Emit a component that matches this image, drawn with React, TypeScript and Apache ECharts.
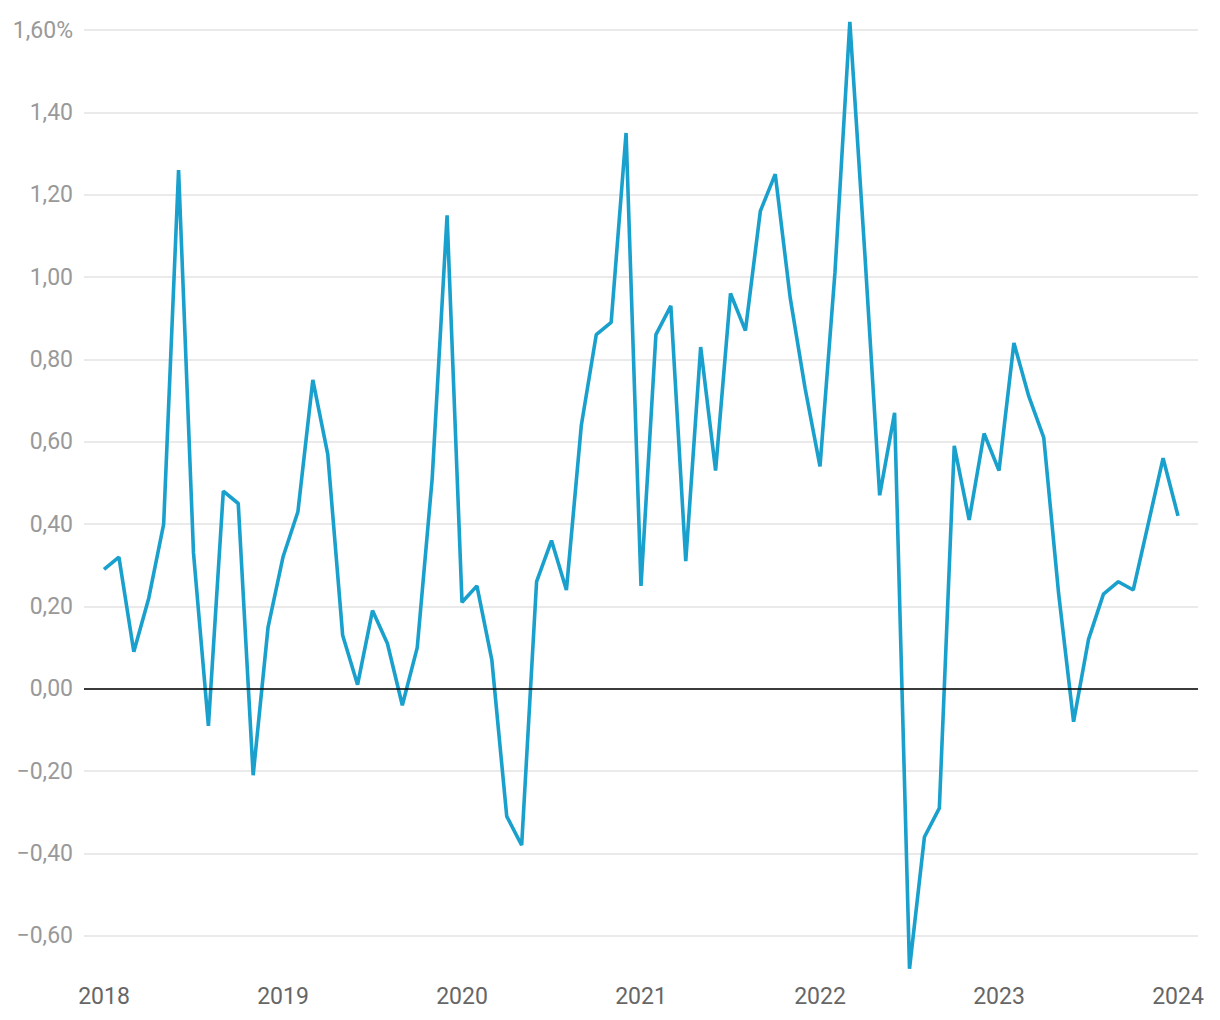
import React, { useEffect, useRef } from "react";
import * as echarts from "echarts";

const years = ["2018", "2019", "2020", "2021", "2022", "2023", "2024"];
const values2018 = [0.29, 0.32, 0.09, 0.22, 0.40, 1.26, 0.33, -0.09, 0.48, 0.45, -0.21, 0.15];
const values2019 = [0.32, 0.43, 0.75, 0.57, 0.13, 0.01, 0.19, 0.11, -0.04, 0.10, 0.51, 1.15];
const values2020 = [0.21, 0.25, 0.07, -0.31, -0.38, 0.26, 0.36, 0.24, 0.64, 0.86, 0.89, 1.35];
const values2021 = [0.25, 0.86, 0.93, 0.31, 0.83, 0.53, 0.96, 0.87, 1.16, 1.25, 0.95, 0.73];
const values2022 = [0.54, 1.01, 1.62, 1.06, 0.47, 0.67, -0.68, -0.36, -0.29, 0.59, 0.41, 0.62];
const values2023 = [0.53, 0.84, 0.71, 0.61, 0.23, -0.08, 0.12, 0.23, 0.26, 0.24, 0.40, 0.56];
const values2024 = [0.42];
const yTicks = [-0.6, -0.4, -0.2, 0, 0.2, 0.4, 0.6, 0.8, 1.0, 1.2, 1.4, 1.6];

const allValues = [
  ...values2018, ...values2019, ...values2020, ...values2021,
  ...values2022, ...values2023, ...values2024,
];

export default function App() {
  const ref = useRef<HTMLDivElement>(null);
  useEffect(() => {
    document.body.style.margin = "0";
    const chart = echarts.init(ref.current!, null, { renderer: "svg" });
    const data = allValues.map((v, i) => [i, v]);
    const yearTicks = years.map((_, i) => i * 12);
    chart.setOption({
      animation: false,
      grid: { left: 84, right: 22, top: 30, bottom: 43, containLabel: false },
      xAxis: {
        type: "value",
        min: -1.34,
        max: 73.34,
        axisLine: { show: false },
        axisTick: { show: false },
        splitLine: { show: false },
        axisLabel: {
          customValues: yearTicks,
          formatter: (v: number) => years[Math.round(v / 12)] ?? "",
          color: "#666",
          fontSize: 23,
          fontFamily: "Roboto",
          margin: 8,
        },
      },
      yAxis: {
        type: "value",
        min: -0.7,
        max: 1.6,
        axisLine: { show: false },
        axisTick: { show: false, customValues: yTicks },
        splitLine: { show: true, lineStyle: { color: "#e3e3e3", width: 1.5 } },
        axisLabel: {
          customValues: yTicks,
          formatter: (v: number) => {
            const s = Math.abs(v).toFixed(2).replace(".", ",");
            const sign = v < -1e-9 ? "\u2212" : "";
            return sign + s + (Math.abs(v - 1.6) < 1e-9 ? "%" : "");
          },
          color: "#999",
          fontSize: 23,
          fontFamily: "Roboto",
          margin: 11,
        },
      },
      series: [
        {
          type: "line",
          data,
          clip: false,
          showSymbol: false,
          symbol: "none",
          lineStyle: { color: "#1aa0cc", width: 3.6 },
          markLine: {
            silent: true,
            symbol: "none",
            label: { show: false },
            lineStyle: { color: "#000", width: 1.5, type: "solid" },
            data: [{ yAxis: 0 }],
          },
        },
      ],
    });
    return () => chart.dispose();
  }, []);
  return <div ref={ref} style={{ width: 1220, height: 1020 }} />;
}
